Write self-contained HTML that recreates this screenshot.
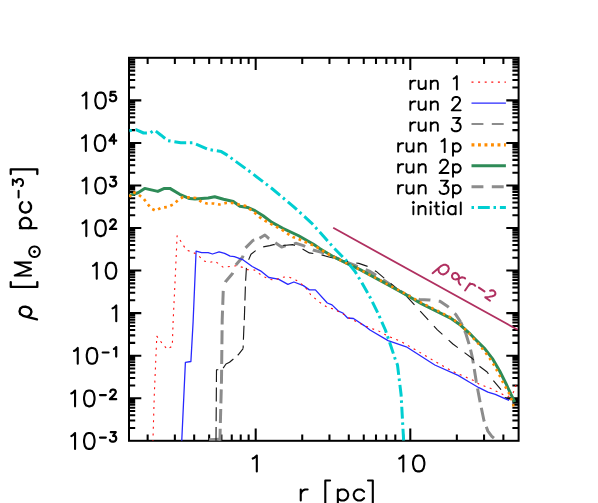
<!DOCTYPE html>
<html><head><meta charset="utf-8"><title>density profile</title>
<style>html,body{margin:0;padding:0;background:#fff;font-family:"Liberation Sans",sans-serif}svg{display:block}</style></head>
<body>
<svg width="598" height="503" viewBox="0 0 598 503">
<rect width="598" height="503" fill="#fff"/>
<defs><clipPath id="c"><rect x="129" y="57.8" width="389.6" height="383"/></clipPath></defs>
<g stroke="#000" stroke-width="2.05" fill="none">
<path d="M147.64 440.8v-6.2M147.64 57.8v6.2M174.86 440.8v-6.2M174.86 57.8v6.2M194.18 440.8v-6.2M194.18 57.8v6.2M209.16 440.8v-6.2M209.16 57.8v6.2M221.4 440.8v-6.2M221.4 57.8v6.2M231.75 440.8v-6.2M231.75 57.8v6.2M240.72 440.8v-6.2M240.72 57.8v6.2M248.63 440.8v-6.2M248.63 57.8v6.2M255.7 440.8v-12.3M255.7 57.8v12.3M302.24 440.8v-6.2M302.24 57.8v6.2M329.46 440.8v-6.2M329.46 57.8v6.2M348.78 440.8v-6.2M348.78 57.8v6.2M363.76 440.8v-6.2M363.76 57.8v6.2M376 440.8v-6.2M376 57.8v6.2M386.35 440.8v-6.2M386.35 57.8v6.2M395.32 440.8v-6.2M395.32 57.8v6.2M403.23 440.8v-6.2M403.23 57.8v6.2M410.3 440.8v-12.3M410.3 57.8v12.3M456.84 440.8v-6.2M456.84 57.8v6.2M484.06 440.8v-6.2M484.06 57.8v6.2M503.38 440.8v-6.2M503.38 57.8v6.2M129 427.99h6.2M518.6 427.99h-6.2M129 420.5h6.2M518.6 420.5h-6.2M129 415.18h6.2M518.6 415.18h-6.2M129 411.05h6.2M518.6 411.05h-6.2M129 407.69h6.2M518.6 407.69h-6.2M129 404.84h6.2M518.6 404.84h-6.2M129 402.37h6.2M518.6 402.37h-6.2M129 400.19h6.2M518.6 400.19h-6.2M129 398.24h12.3M518.6 398.24h-12.3M129 385.43h6.2M518.6 385.43h-6.2M129 377.94h6.2M518.6 377.94h-6.2M129 372.62h6.2M518.6 372.62h-6.2M129 368.5h6.2M518.6 368.5h-6.2M129 365.13h6.2M518.6 365.13h-6.2M129 362.28h6.2M518.6 362.28h-6.2M129 359.81h6.2M518.6 359.81h-6.2M129 357.64h6.2M518.6 357.64h-6.2M129 355.69h12.3M518.6 355.69h-12.3M129 342.88h6.2M518.6 342.88h-6.2M129 335.38h6.2M518.6 335.38h-6.2M129 330.07h6.2M518.6 330.07h-6.2M129 325.94h6.2M518.6 325.94h-6.2M129 322.57h6.2M518.6 322.57h-6.2M129 319.73h6.2M518.6 319.73h-6.2M129 317.26h6.2M518.6 317.26h-6.2M129 315.08h6.2M518.6 315.08h-6.2M129 313.13h12.3M518.6 313.13h-12.3M129 300.32h6.2M518.6 300.32h-6.2M129 292.83h6.2M518.6 292.83h-6.2M129 287.51h6.2M518.6 287.51h-6.2M129 283.39h6.2M518.6 283.39h-6.2M129 280.02h6.2M518.6 280.02h-6.2M129 277.17h6.2M518.6 277.17h-6.2M129 274.7h6.2M518.6 274.7h-6.2M129 272.53h6.2M518.6 272.53h-6.2M129 270.58h12.3M518.6 270.58h-12.3M129 257.77h6.2M518.6 257.77h-6.2M129 250.27h6.2M518.6 250.27h-6.2M129 244.96h6.2M518.6 244.96h-6.2M129 240.83h6.2M518.6 240.83h-6.2M129 237.46h6.2M518.6 237.46h-6.2M129 234.61h6.2M518.6 234.61h-6.2M129 232.15h6.2M518.6 232.15h-6.2M129 229.97h6.2M518.6 229.97h-6.2M129 228.02h12.3M518.6 228.02h-12.3M129 215.21h6.2M518.6 215.21h-6.2M129 207.72h6.2M518.6 207.72h-6.2M129 202.4h6.2M518.6 202.4h-6.2M129 198.28h6.2M518.6 198.28h-6.2M129 194.91h6.2M518.6 194.91h-6.2M129 192.06h6.2M518.6 192.06h-6.2M129 189.59h6.2M518.6 189.59h-6.2M129 187.41h6.2M518.6 187.41h-6.2M129 185.47h12.3M518.6 185.47h-12.3M129 172.66h6.2M518.6 172.66h-6.2M129 165.16h6.2M518.6 165.16h-6.2M129 159.85h6.2M518.6 159.85h-6.2M129 155.72h6.2M518.6 155.72h-6.2M129 152.35h6.2M518.6 152.35h-6.2M129 149.5h6.2M518.6 149.5h-6.2M129 147.04h6.2M518.6 147.04h-6.2M129 144.86h6.2M518.6 144.86h-6.2M129 142.91h12.3M518.6 142.91h-12.3M129 130.1h6.2M518.6 130.1h-6.2M129 122.61h6.2M518.6 122.61h-6.2M129 117.29h6.2M518.6 117.29h-6.2M129 113.17h6.2M518.6 113.17h-6.2M129 109.8h6.2M518.6 109.8h-6.2M129 106.95h6.2M518.6 106.95h-6.2M129 104.48h6.2M518.6 104.48h-6.2M129 102.3h6.2M518.6 102.3h-6.2M129 100.36h12.3M518.6 100.36h-12.3M129 87.55h6.2M518.6 87.55h-6.2M129 80.05h6.2M518.6 80.05h-6.2M129 74.73h6.2M518.6 74.73h-6.2M129 70.61h6.2M518.6 70.61h-6.2M129 67.24h6.2M518.6 67.24h-6.2M129 64.39h6.2M518.6 64.39h-6.2M129 61.92h6.2M518.6 61.92h-6.2M129 59.75h6.2M518.6 59.75h-6.2"/>
</g>
<rect x="129" y="57.8" width="389.6" height="383" fill="none" stroke="#000" stroke-width="2.0"/>
<g clip-path="url(#c)">
<path d="M219.9 439.2 L209 439.8" fill="none" stroke="#8c8c8c" stroke-width="3.0" stroke-linejoin="round" stroke-linecap="butt" stroke-dasharray="11.9 8.4"/>
<path d="M219.9 441 L221.5 380 L222.2 320 L223.3 289.2" fill="none" stroke="#8c8c8c" stroke-width="3.0" stroke-linejoin="round" stroke-linecap="butt" stroke-dasharray="14 5.7" stroke-dashoffset="1.76"/>
<path d="M223.3 289.2 L225.3 282 L232.3 273.7 L235 266 L242.7 257 L244.8 248.6 L253.1 240.3 L256.2 239.2" fill="none" stroke="#8c8c8c" stroke-width="3.0" stroke-linejoin="round" stroke-linecap="butt" stroke-dasharray="11.9 8.4" stroke-dashoffset="12.83"/>
<path d="M256.2 239.2 L259.5 238.2 L264.9 235 L268.4 238.2 L272 240.6" fill="none" stroke="#8c8c8c" stroke-width="3.0" stroke-linejoin="round" stroke-linecap="butt" stroke-dasharray="11.9 8.4" stroke-dashoffset="16.85"/>
<path d="M272 240.6 L275.3 242.8 L281.6 247 L285.1 245.9 L289 245 L296.3 243.3 L303.4 245.7 L313 250 L323.7 252.9 L340 259.5" fill="none" stroke="#8c8c8c" stroke-width="3.0" stroke-linejoin="round" stroke-linecap="butt" stroke-dasharray="11.9 8.4" stroke-dashoffset="16.33"/>
<path d="M340 259.5 L355 265.5 L370 271.5 L380.4 278 L395.9 288.3 L406.3 294.8 L419.2 299.5 L429.6 300 L440 301.3 L447.8 306.5 L455.5 314.2 L460.7 322" fill="none" stroke="#8c8c8c" stroke-width="3.0" stroke-linejoin="round" stroke-linecap="butt" stroke-dasharray="11.9 8.4" stroke-dashoffset="13.01"/>
<path d="M460.7 322 L465.9 333.7 L469.8 346.6 L472.4 357.5 L476.3 381.8 L480.2 402.6 L484 420.7 L487.9 431.1 L491.8 436.3 L496 440" fill="none" stroke="#8c8c8c" stroke-width="3.0" stroke-linejoin="round" stroke-linecap="butt" stroke-dasharray="14 5.7" stroke-dashoffset="9.97"/>
<path d="M216 441 L216.5 369.7 L222 369.7 L226 364 L229.5 362.3 L238.2 354.8 L243.1 348.6" fill="none" stroke="#1a1a1a" stroke-width="1.15" stroke-linejoin="round" stroke-linecap="butt" stroke-dasharray="14 5.7"/>
<path d="M243.1 348.6 L243.4 339.9 L243.9 327.5 L244.3 320.1 L245.5 283 L246.4 268" fill="none" stroke="#1a1a1a" stroke-width="1.15" stroke-linejoin="round" stroke-linecap="butt" stroke-dasharray="14 5.7" stroke-dashoffset="10.89"/>
<path d="M246.4 268 L247.3 263 L248.9 259.1 L251 254.2 L255.9 250.4 L262.9 247 L269.8 245.6 L273.6 244.6 L282 245.6 L292.7 244.6 L301 248 L309.4 252.9 L320 254.4 L328 256.7 L340.4 260" fill="none" stroke="#1a1a1a" stroke-width="1.15" stroke-linejoin="round" stroke-linecap="butt" stroke-dasharray="11.9 8.4" stroke-dashoffset="11.68"/>
<path d="M340.4 260 L352.3 262.4 L358.8 263.4 L366.8 266.1 L376.2 271.4 L384.2 278.1 L392.2 284.7 L406.3 296.1 L421.8 312.9 L437.4 329.8 L452.9 344 L472.4 358.5 L478.2 365.3 L487.1 372 L492.4 379.5 L500.6 389.2 L505 397.4 L509.5 399.6" fill="none" stroke="#1a1a1a" stroke-width="1.15" stroke-linejoin="round" stroke-linecap="butt" stroke-dasharray="11.9 8.4" stroke-dashoffset="4.14"/>
<path d="M126 196.5 L129.4 195.4 L138.1 192.7 L144.7 188.4 L157.8 191.4 L164.4 188.4 L169.9 188.4 L179.7 194.3 L189.6 198.6 L195 199 L208.2 198 L214.7 196.7 L223.5 199.3 L233.3 201.5 L239.9 206.3 L247.6 207.4 L255 210.7 L263.1 215.8 L271.9 222.4 L282.8 228.3 L298.2 235.5 L313.5 244.3 L320 248.7 L333.4 256.7 L346.8 263.4 L360.1 269.7 L373.5 276.8 L386.9 284.1 L403.7 293.5 L421.8 303.9 L437.4 311.6 L450.4 318.1 L460.7 325.3 L469 332.8 L476 340 L484.9 348.9 L492.4 358.6 L499.8 371.3 L505.8 383.2 L511 394.4 L514 400.4 L514.7 402" fill="none" stroke="#2e8b57" stroke-width="3.0" stroke-linejoin="round" stroke-linecap="butt"/>
<path d="M181.7 442 L185.4 362.3 L190.9 361.5 L193.1 322 L196.1 251.1 L201.6 252.6 L208.2 252.6 L212.5 254 L219.1 251.8 L224.6 253.3 L230.1 256.1 L234.4 256.6 L243.2 259.9 L252.2 266.5 L260.5 270.8 L268.8 277.5 L278.4 279.1 L287.9 284.4 L293.9 282 L303.4 285.6 L309.4 289.9 L315.4 289.9 L327.3 303 L332 304.9 L338 310.8 L342.8 313 L347.6 318 L353.5 318.5 L364.2 325.6 L370 330 L388.1 340.6 L406.3 346.8 L434.8 365 L458.1 375.4 L470 382.5 L478.9 387.7 L487.9 392.2 L495.3 394.4 L504.3 398.4 L509.1 400.4" fill="none" stroke="#2828ff" stroke-width="1.3" stroke-linejoin="round" stroke-linecap="butt"/>
<path d="M129.4 197.1 L132.7 192.1 L137 193.5 L143.6 198.6 L146.9 203 L151.3 208.5 L155.6 210.7 L161.1 207.8 L167.7 207 L173.1 204.5 L178.6 199.7 L183 197.1 L190.7 197.5 L196 198 L201.6 201.9 L207.1 203.5 L213.6 203.5 L219.5 204.5 L225.7 203 L232.2 203 L238.8 204.5 L245.4 205.9 L254.4 212.5 L259.8 217.3 L265.3 220.8 L270.8 223.9 L276.3 226.8 L281.7 229.6 L287.2 233.3 L292.7 237 L298.2 238.8 L303.6 241.4 L309.1 243.6 L315.7 246.5 L321.1 249.7 L326.6 253.2 L333.4 256.7" fill="none" stroke="#ff8c00" stroke-width="2.7" stroke-linejoin="round" stroke-linecap="butt" stroke-dasharray="2.7 3.8"/>
<path d="M333.4 256.7 L346.8 263.4 L360.1 269.7 L373.5 276.8 L386.9 284 L403.7 292.8 L421.8 303 L437.4 310.7 L450.4 317.3 L460.7 324.9 L469 333.2 L475.4 340.7 L479.6 345.2 L483.4 350.1 L487.1 354.9 L490.8 360.1 L494.3 365.6 L497.2 371.3 L500.2 377 L503.2 382.9 L506.2 388.4 L509.2 393.7 L511.7 400 L513.4 405.6 L513.7 407.6" fill="none" stroke="#ff8c00" stroke-width="2.5" stroke-linejoin="round" stroke-linecap="butt" stroke-dasharray="2.4 4.1"/>
<path d="M152.9 442 L154.3 394.6 L156.8 336.2 L162.3 343.6 L167.3 349.3 L172.3 346.1 L173.1 322 L175.3 276.3 L177.1 235.8 L180.8 241.3 L186.3 250 L192.8 252.2 L198.3 255.5 L203.8 261 L209.3 262.5 L214.7 261 L219.1 264.2 L223.5 267.5 L230.1 266.4 L236.6 265.8 L243.2 267.5 L247.6 269.7 L254.5 270 L261.7 275.5 L268.8 279.1 L274.8 280.3 L280.8 277.5 L287.9 276.7 L296.3 280.3 L304.6 286.3 L310.6 294.6 L318.9 301.8 L326.1 306.5 L334.4 309.4 L342.8 313.7 L349.9 318.5 L359.5 323.2 L371.4 328.5 L377.8 330.5 L388.1 336.3 L401.1 341.5 L408.9 346.1 L416.7 350.5 L432.2 359.8 L452.9 371.5 L473 380.2 L478.9 384 L485.7 386.5 L492.4 389.2 L497.6 391.9 L502.8 394.4 L508 396.6 L512.5 393.7 L515.5 388.4 L515.9 384" fill="none" stroke="#ff1010" stroke-width="1.1" stroke-linejoin="round" stroke-linecap="butt" stroke-dasharray="2 4.6"/>
<path d="M129.4 130.8 L135.9 129.7 L143.6 133 L150.2 133 L154.5 130.1 L161.1 135.2 L167.7 140.6 L180.8 142.8 L192.8 142.8 L208.2 149.4 L221.3 151.6 L226.8 154.9 L238.8 163.6 L253 174 L271.9 188.5 L293.8 206.8 L311.3 222.8 L324.4 237.3 L333.2 247.2 L345.8 260 L354.9 271.2 L362 283 L369.5 296.2 L377.8 312.9 L385.4 330 L390.7 345.6 L395 358.5 L397.5 365 L401.1 394.8 L403.7 442" fill="none" stroke="#00ced1" stroke-width="3.0" stroke-linejoin="round" stroke-linecap="butt" stroke-dasharray="2.5 3.9 11.9 3.7"/>
<path d="M333.2 227.8 L517.7 329.8" fill="none" stroke="#b03060" stroke-width="1.8" stroke-linejoin="round" stroke-linecap="butt"/>
</g>
<path d="M71.3 436.07 L72.8 435.31 L75.05 433.05 L75.05 448.9M88.55 433.05 L86.3 433.8 L84.8 436.07 L84.05 439.84 L84.05 442.11 L84.8 445.88 L86.3 448.15 L88.55 448.9 L90.05 448.9 L92.3 448.15 L93.8 445.88 L94.55 442.11 L94.55 439.84 L93.8 436.07 L92.3 433.8 L90.05 433.05 L88.55 433.05" fill="none" stroke="#000" stroke-width="2.1" stroke-linecap="round" stroke-linejoin="round"/>
<path d="M100 437.62 L105.85 437.62M110.8 432.19 L115.75 432.19 L113.05 435.81 L114.4 435.81 L115.3 436.26 L115.75 436.72 L116.2 438.08 L116.2 438.98 L115.75 440.34 L114.85 441.25 L113.5 441.7 L112.15 441.7 L110.8 441.25 L110.35 440.79 L109.9 439.89" fill="none" stroke="#000" stroke-width="2.2" stroke-linecap="round" stroke-linejoin="round"/>
<path d="M71.3 393.51 L72.8 392.75 L75.05 390.49 L75.05 406.34M88.55 390.49 L86.3 391.24 L84.8 393.51 L84.05 397.28 L84.05 399.55 L84.8 403.32 L86.3 405.59 L88.55 406.34 L90.05 406.34 L92.3 405.59 L93.8 403.32 L94.55 399.55 L94.55 397.28 L93.8 393.51 L92.3 391.24 L90.05 390.49 L88.55 390.49" fill="none" stroke="#000" stroke-width="2.1" stroke-linecap="round" stroke-linejoin="round"/>
<path d="M100 395.07 L105.85 395.07M110.35 391.9 L110.35 391.44 L110.8 390.54 L111.25 390.08 L112.15 389.63 L113.95 389.63 L114.85 390.08 L115.3 390.54 L115.75 391.44 L115.75 392.35 L115.3 393.26 L114.4 394.61 L109.9 399.14 L116.2 399.14" fill="none" stroke="#000" stroke-width="2.2" stroke-linecap="round" stroke-linejoin="round"/>
<path d="M74 350.95 L75.5 350.2 L77.75 347.93 L77.75 363.79M91.25 347.93 L89 348.69 L87.5 350.95 L86.75 354.73 L86.75 356.99 L87.5 360.77 L89 363.03 L91.25 363.79 L92.75 363.79 L95 363.03 L96.5 360.77 L97.25 356.99 L97.25 354.73 L96.5 350.95 L95 348.69 L92.75 347.93 L91.25 347.93" fill="none" stroke="#000" stroke-width="2.1" stroke-linecap="round" stroke-linejoin="round"/>
<path d="M102.7 352.51 L108.55 352.51M113.95 348.89 L114.85 348.43 L116.2 347.08 L116.2 356.59" fill="none" stroke="#000" stroke-width="2.2" stroke-linecap="round" stroke-linejoin="round"/>
<path d="M112.5 308.4 L114 307.64 L116.25 305.38 L116.25 321.23" fill="none" stroke="#000" stroke-width="2.1" stroke-linecap="round" stroke-linejoin="round"/>
<path d="M93 265.84 L94.5 265.09 L96.75 262.82 L96.75 278.68M110.25 262.82 L108 263.58 L106.5 265.84 L105.75 269.62 L105.75 271.88 L106.5 275.66 L108 277.92 L110.25 278.68 L111.75 278.68 L114 277.92 L115.5 275.66 L116.25 271.88 L116.25 269.62 L115.5 265.84 L114 263.58 L111.75 262.82 L110.25 262.82" fill="none" stroke="#000" stroke-width="2.1" stroke-linecap="round" stroke-linejoin="round"/>
<path d="M82.55 223.29 L84.05 222.53 L86.3 220.27 L86.3 236.12M99.8 220.27 L97.55 221.02 L96.05 223.29 L95.3 227.06 L95.3 229.33 L96.05 233.1 L97.55 235.37 L99.8 236.12 L101.3 236.12 L103.55 235.37 L105.05 233.1 L105.8 229.33 L105.8 227.06 L105.05 223.29 L103.55 221.02 L101.3 220.27 L99.8 220.27" fill="none" stroke="#000" stroke-width="2.1" stroke-linecap="round" stroke-linejoin="round"/>
<path d="M110.35 221.67 L110.35 221.22 L110.8 220.32 L111.25 219.86 L112.15 219.41 L113.95 219.41 L114.85 219.86 L115.3 220.32 L115.75 221.22 L115.75 222.13 L115.3 223.03 L114.4 224.39 L109.9 228.92 L116.2 228.92" fill="none" stroke="#000" stroke-width="2.2" stroke-linecap="round" stroke-linejoin="round"/>
<path d="M82.55 180.73 L84.05 179.98 L86.3 177.71 L86.3 193.57M99.8 177.71 L97.55 178.47 L96.05 180.73 L95.3 184.51 L95.3 186.77 L96.05 190.55 L97.55 192.81 L99.8 193.57 L101.3 193.57 L103.55 192.81 L105.05 190.55 L105.8 186.77 L105.8 184.51 L105.05 180.73 L103.55 178.47 L101.3 177.71 L99.8 177.71" fill="none" stroke="#000" stroke-width="2.1" stroke-linecap="round" stroke-linejoin="round"/>
<path d="M110.8 176.85 L115.75 176.85 L113.05 180.48 L114.4 180.48 L115.3 180.93 L115.75 181.38 L116.2 182.74 L116.2 183.65 L115.75 185.01 L114.85 185.91 L113.5 186.37 L112.15 186.37 L110.8 185.91 L110.35 185.46 L109.9 184.55" fill="none" stroke="#000" stroke-width="2.2" stroke-linecap="round" stroke-linejoin="round"/>
<path d="M82.1 138.18 L83.6 137.42 L85.85 135.16 L85.85 151.01M99.35 135.16 L97.1 135.91 L95.6 138.18 L94.85 141.95 L94.85 144.22 L95.6 147.99 L97.1 150.26 L99.35 151.01 L100.85 151.01 L103.1 150.26 L104.6 147.99 L105.35 144.22 L105.35 141.95 L104.6 138.18 L103.1 135.91 L100.85 135.16 L99.35 135.16" fill="none" stroke="#000" stroke-width="2.1" stroke-linecap="round" stroke-linejoin="round"/>
<path d="M113.95 134.3 L109.45 140.64 L116.2 140.64M113.95 134.3 L113.95 143.81" fill="none" stroke="#000" stroke-width="2.2" stroke-linecap="round" stroke-linejoin="round"/>
<path d="M82.55 95.62 L84.05 94.87 L86.3 92.6 L86.3 108.46M99.8 92.6 L97.55 93.36 L96.05 95.62 L95.3 99.4 L95.3 101.66 L96.05 105.44 L97.55 107.7 L99.8 108.46 L101.3 108.46 L103.55 107.7 L105.05 105.44 L105.8 101.66 L105.8 99.4 L105.05 95.62 L103.55 93.36 L101.3 92.6 L99.8 92.6" fill="none" stroke="#000" stroke-width="2.1" stroke-linecap="round" stroke-linejoin="round"/>
<path d="M115.3 91.74 L110.8 91.74 L110.35 95.82 L110.8 95.37 L112.15 94.91 L113.5 94.91 L114.85 95.37 L115.75 96.27 L116.2 97.63 L116.2 98.54 L115.75 99.9 L114.85 100.8 L113.5 101.26 L112.15 101.26 L110.8 100.8 L110.35 100.35 L109.9 99.44" fill="none" stroke="#000" stroke-width="2.2" stroke-linecap="round" stroke-linejoin="round"/>
<path d="M252.76 458.56 L254.38 457.81 L256.81 455.54 L256.81 471.4" fill="none" stroke="#000" stroke-width="2.1" stroke-linecap="round" stroke-linejoin="round"/>
<path d="M399.26 458.56 L400.88 457.81 L403.31 455.54 L403.31 471.4M417.89 455.54 L415.46 456.3 L413.84 458.56 L413.03 462.34 L413.03 464.6 L413.84 468.38 L415.46 470.64 L417.89 471.4 L419.51 471.4 L421.94 470.64 L423.56 468.38 L424.37 464.6 L424.37 462.34 L423.56 458.56 L421.94 456.3 L419.51 455.54 L417.89 455.54" fill="none" stroke="#000" stroke-width="2.1" stroke-linecap="round" stroke-linejoin="round"/>
<g id="xtitle">
<path d="M300.75 489.44 L300.75 500.5M300.75 494.18 L301.61 491.81 L303.33 490.23 L305.05 489.44 L307.63 489.44" fill="none" stroke="#000" stroke-width="2.1" stroke-linecap="round" stroke-linejoin="round"/>
<path d="M330.1 480.5 L325.3 480.5 L325.3 506.1 L330.1 506.1" fill="none" stroke="#000" stroke-width="2.1" stroke-linecap="round" stroke-linejoin="round"/>
<path d="M337.85 489.44 L337.85 506.03M337.85 491.81 L339.57 490.23 L341.29 489.44 L343.87 489.44 L345.59 490.23 L347.31 491.81 L348.17 494.18 L348.17 495.76 L347.31 498.13 L345.59 499.71 L343.87 500.5 L341.29 500.5 L339.57 499.71 L337.85 498.13" fill="none" stroke="#000" stroke-width="2.1" stroke-linecap="round" stroke-linejoin="round"/>
<path d="M364.07 491.81 L362.35 490.23 L360.63 489.44 L358.05 489.44 L356.33 490.23 L354.61 491.81 L353.75 494.18 L353.75 495.76 L354.61 498.13 L356.33 499.71 L358.05 500.5 L360.63 500.5 L362.35 499.71 L364.07 498.13" fill="none" stroke="#000" stroke-width="2.1" stroke-linecap="round" stroke-linejoin="round"/>
<path d="M368 480.5 L372.8 480.5 L372.8 506.1 L368 506.1" fill="none" stroke="#000" stroke-width="2.1" stroke-linecap="round" stroke-linejoin="round"/>
</g>
<g id="ytitle">
<path d="M37.01 319.4 L23.12 315.81 L20.31 314.06 L19.53 311.38 L20.31 308.55 L22.58 306.88 L25.38 306.62 L28.74 307.71 L30.92 309.71 L31.47 311.88 L30.61 314.39 L28.74 316.06 L27.02 316.81" fill="none" stroke="#000" stroke-width="2.3" stroke-linecap="round" stroke-linejoin="round"/>
<path d="M10.75 282.1 L10.75 286.9 L37.31 286.9 L37.31 282.1" fill="none" stroke="#000" stroke-width="2.3" stroke-linecap="round" stroke-linejoin="round"/>
<path d="M14.73 275.4 L31 275.4M14.73 275.4 L31 269M14.73 262.6 L31 269M14.73 262.6 L31 262.6" fill="none" stroke="#000" stroke-width="2.05" stroke-linecap="round" stroke-linejoin="round"/>
<path d="M34.5 246.39 L33.12 246.57 L31.84 247.1 L30.75 247.95 L29.9 249.04 L29.37 250.32 L29.19 251.7 L29.37 253.07 L29.9 254.35 L30.75 255.45 L31.84 256.29 L33.12 256.82 L34.5 257 L35.87 256.82 L37.15 256.29 L38.25 255.45 L39.09 254.35 L39.62 253.07 L39.8 251.7 L39.62 250.32 L39.09 249.04 L38.25 247.95 L37.15 247.1 L35.87 246.57 L34.5 246.39M34.5 252.32 L33.87 251.7 L34.5 251.07 L35.12 251.7 L34.5 252.32 L34.5 251.07" fill="none" stroke="#000" stroke-width="1.9" stroke-linecap="round" stroke-linejoin="round"/>
<path d="M19.94 228.2 L36.53 228.2M22.31 228.2 L20.73 226.48 L19.94 224.76 L19.94 222.18 L20.73 220.46 L22.31 218.74 L24.68 217.88 L26.26 217.88 L28.63 218.74 L30.21 220.46 L31 222.18 L31 224.76 L30.21 226.48 L28.63 228.2" fill="none" stroke="#000" stroke-width="2.3" stroke-linecap="round" stroke-linejoin="round"/>
<path d="M22.31 202.18 L20.73 203.9 L19.94 205.62 L19.94 208.2 L20.73 209.92 L22.31 211.64 L24.68 212.5 L26.26 212.5 L28.63 211.64 L30.21 209.92 L31 208.2 L31 205.62 L30.21 203.9 L28.63 202.18" fill="none" stroke="#000" stroke-width="2.3" stroke-linecap="round" stroke-linejoin="round"/>
<path d="M18.59 197.6 L18.59 190.87" fill="none" stroke="#000" stroke-width="2.0" stroke-linecap="round" stroke-linejoin="round"/>
<path d="M12.82 185 L12.82 179.5 L16.7 182.5 L16.7 181 L17.18 180 L17.67 179.5 L19.12 179 L20.09 179 L21.55 179.5 L22.52 180.5 L23 182 L23 183.5 L22.52 185 L22.03 185.5 L21.06 186" fill="none" stroke="#000" stroke-width="2.0" stroke-linecap="round" stroke-linejoin="round"/>
<path d="M10.75 174.1 L10.75 169.3 L37.31 169.3 L37.31 174.1" fill="none" stroke="#000" stroke-width="2.3" stroke-linecap="round" stroke-linejoin="round"/>
</g>
<path d="M471.5 82.15 L505.9 82.15" fill="none" stroke="#ff1010" stroke-width="1.1" stroke-linejoin="round" stroke-linecap="butt" stroke-dasharray="2 4.6"/>
<path d="M410.32 80.62 L410.32 88.95M410.32 84.19 L410.96 82.41 L412.24 81.22 L413.52 80.62 L415.44 80.62M418.64 80.62 L418.64 86.57 L419.28 88.36 L420.56 88.95 L422.48 88.95 L423.76 88.36 L425.68 86.57M425.68 80.62 L425.68 88.95M430.8 80.62 L430.8 88.95M430.8 83 L432.72 81.22 L434 80.62 L435.92 80.62 L437.2 81.22 L437.84 83 L437.84 88.95M453.64 78.66 L454.92 78.02 L456.84 76.12 L456.84 89.45" fill="none" stroke="#000" stroke-width="1.9" stroke-linecap="round" stroke-linejoin="round"/>
<path d="M471.5 103.05 L505.9 103.05" fill="none" stroke="#2828ff" stroke-width="1.3" stroke-linejoin="round" stroke-linecap="butt"/>
<path d="M410.32 101.52 L410.32 109.85M410.32 105.09 L410.96 103.31 L412.24 102.12 L413.52 101.52 L415.44 101.52M418.64 101.52 L418.64 107.47 L419.28 109.26 L420.56 109.85 L422.48 109.85 L423.76 109.26 L425.68 107.47M425.68 101.52 L425.68 109.85M430.8 101.52 L430.8 109.85M430.8 103.9 L432.72 102.12 L434 101.52 L435.92 101.52 L437.2 102.12 L437.84 103.9 L437.84 109.85M452.36 100.19 L452.36 99.56 L453 98.29 L453.64 97.65 L454.92 97.02 L457.48 97.02 L458.76 97.65 L459.4 98.29 L460.04 99.56 L460.04 100.83 L459.4 102.1 L458.12 104 L451.72 110.35 L460.68 110.35" fill="none" stroke="#000" stroke-width="1.9" stroke-linecap="round" stroke-linejoin="round"/>
<path d="M471.5 123.95 L505.9 123.95" fill="none" stroke="#1a1a1a" stroke-width="1.15" stroke-linejoin="round" stroke-linecap="butt" stroke-dasharray="11.9 8.4"/>
<path d="M410.32 122.42 L410.32 130.75M410.32 125.99 L410.96 124.2 L412.24 123.02 L413.52 122.42 L415.44 122.42M418.64 122.42 L418.64 128.37 L419.28 130.16 L420.56 130.75 L422.48 130.75 L423.76 130.16 L425.68 128.37M425.68 122.42 L425.68 130.75M430.8 122.42 L430.8 130.75M430.8 124.8 L432.72 123.02 L434 122.42 L435.92 122.42 L437.2 123.02 L437.84 124.8 L437.84 130.75M453 117.91 L460.04 117.91 L456.2 123 L458.12 123 L459.4 123.63 L460.04 124.27 L460.68 126.17 L460.68 127.44 L460.04 129.34 L458.76 130.62 L456.84 131.25 L454.92 131.25 L453 130.62 L452.36 129.98 L451.72 128.71" fill="none" stroke="#000" stroke-width="1.9" stroke-linecap="round" stroke-linejoin="round"/>
<path d="M471.5 144.85 L505.9 144.85" fill="none" stroke="#ff8c00" stroke-width="3.1" stroke-linejoin="round" stroke-linecap="butt" stroke-dasharray="2.9 3.6"/>
<path d="M398.16 143.32 L398.16 151.65M398.16 146.89 L398.8 145.11 L400.08 143.92 L401.36 143.32 L403.28 143.32M406.48 143.32 L406.48 149.27 L407.12 151.06 L408.4 151.65 L410.32 151.65 L411.6 151.06 L413.52 149.27M413.52 143.32 L413.52 151.65M418.64 143.32 L418.64 151.65M418.64 145.7 L420.56 143.92 L421.84 143.32 L423.76 143.32 L425.04 143.92 L425.68 145.7 L425.68 151.65M441.48 141.36 L442.76 140.72 L444.68 138.81 L444.68 152.15M453 143.32 L453 155.81M453 145.11 L454.28 143.92 L455.56 143.32 L457.48 143.32 L458.76 143.92 L460.04 145.11 L460.68 146.89 L460.68 148.08 L460.04 149.87 L458.76 151.06 L457.48 151.65 L455.56 151.65 L454.28 151.06 L453 149.87" fill="none" stroke="#000" stroke-width="1.9" stroke-linecap="round" stroke-linejoin="round"/>
<path d="M471.5 165.75 L505.9 165.75" fill="none" stroke="#2e8b57" stroke-width="3.0" stroke-linejoin="round" stroke-linecap="butt"/>
<path d="M398.16 164.22 L398.16 172.55M398.16 167.79 L398.8 166.01 L400.08 164.81 L401.36 164.22 L403.28 164.22M406.48 164.22 L406.48 170.17 L407.12 171.96 L408.4 172.55 L410.32 172.55 L411.6 171.96 L413.52 170.17M413.52 164.22 L413.52 172.55M418.64 164.22 L418.64 172.55M418.64 166.6 L420.56 164.81 L421.84 164.22 L423.76 164.22 L425.04 164.81 L425.68 166.6 L425.68 172.55M440.2 162.89 L440.2 162.26 L440.84 160.99 L441.48 160.35 L442.76 159.72 L445.32 159.72 L446.6 160.35 L447.24 160.99 L447.88 162.26 L447.88 163.53 L447.24 164.8 L445.96 166.7 L439.56 173.05 L448.52 173.05M453 164.22 L453 176.72M453 166.01 L454.28 164.81 L455.56 164.22 L457.48 164.22 L458.76 164.81 L460.04 166.01 L460.68 167.79 L460.68 168.98 L460.04 170.77 L458.76 171.96 L457.48 172.55 L455.56 172.55 L454.28 171.96 L453 170.77" fill="none" stroke="#000" stroke-width="1.9" stroke-linecap="round" stroke-linejoin="round"/>
<path d="M471.5 186.65 L505.9 186.65" fill="none" stroke="#8c8c8c" stroke-width="3.0" stroke-linejoin="round" stroke-linecap="butt" stroke-dasharray="11.9 8.4"/>
<path d="M398.16 185.12 L398.16 193.45M398.16 188.69 L398.8 186.91 L400.08 185.72 L401.36 185.12 L403.28 185.12M406.48 185.12 L406.48 191.07 L407.12 192.86 L408.4 193.45 L410.32 193.45 L411.6 192.86 L413.52 191.07M413.52 185.12 L413.52 193.45M418.64 185.12 L418.64 193.45M418.64 187.5 L420.56 185.72 L421.84 185.12 L423.76 185.12 L425.04 185.72 L425.68 187.5 L425.68 193.45M440.84 180.62 L447.88 180.62 L444.04 185.7 L445.96 185.7 L447.24 186.33 L447.88 186.97 L448.52 188.87 L448.52 190.14 L447.88 192.05 L446.6 193.32 L444.68 193.95 L442.76 193.95 L440.84 193.32 L440.2 192.68 L439.56 191.41M453 185.12 L453 197.62M453 186.91 L454.28 185.72 L455.56 185.12 L457.48 185.12 L458.76 185.72 L460.04 186.91 L460.68 188.69 L460.68 189.88 L460.04 191.67 L458.76 192.86 L457.48 193.45 L455.56 193.45 L454.28 192.86 L453 191.67" fill="none" stroke="#000" stroke-width="1.9" stroke-linecap="round" stroke-linejoin="round"/>
<path d="M471.5 207.55 L505.9 207.55" fill="none" stroke="#00ced1" stroke-width="3.0" stroke-linejoin="round" stroke-linecap="butt" stroke-dasharray="2.5 3.9 11.9 3.7"/>
<path d="M412.74 202.42 L413.38 202.99 L414.02 202.42 L413.38 201.85 L412.74 202.42M413.38 206.39 L413.38 214.35M418.5 206.02 L418.5 214.35M418.5 208.4 L420.42 206.62 L421.7 206.02 L423.62 206.02 L424.9 206.62 L425.54 208.4 L425.54 214.35M430.02 202.42 L430.66 202.99 L431.3 202.42 L430.66 201.85 L430.02 202.42M430.66 206.39 L430.66 214.35M436.42 202.42 L436.42 212.08 L437.06 213.78 L438.34 214.35 L439.62 214.35M434.5 206.39 L438.98 206.39M442.82 202.42 L443.46 202.99 L444.1 202.42 L443.46 201.85 L442.82 202.42M443.46 206.39 L443.46 214.35M455.62 206.02 L455.62 214.35M455.62 207.81 L454.34 206.62 L453.06 206.02 L451.14 206.02 L449.86 206.62 L448.58 207.81 L447.94 209.59 L447.94 210.78 L448.58 212.57 L449.86 213.76 L451.14 214.35 L453.06 214.35 L454.34 213.76 L455.62 212.57M460.74 202.42 L460.74 214.35" fill="none" stroke="#000" stroke-width="1.9" stroke-linecap="round" stroke-linejoin="round"/>
<path d="M432.6 273.2 L436.94 269.42 L440.82 266.14 L443.5 264.83 L445.89 264.83 L447.98 266.14 L448.87 268.52 L447.98 271.21 L445.89 273.29 L443.21 274.49 L440.82 273.89 L439.03 272.1 L438.44 270.01 L438.91 267.93M465.1 278.4 L463.89 277.63 L462.1 277.33 L460.01 277.93 L457.93 278.82 L455.84 279.42 L453.75 279.12 L452.26 277.63 L451.96 275.54 L453.16 273.45 L455.24 272.86 L457.33 273.75 L458.82 275.84 L459 278.52 L458.52 280.91 L459.12 283.29 L460.4 284.8M465.1 290.5 L470 283.3M467.9 286.4 L469.5 284.6 L471 284 L472.6 284.05 L474.26 284.75 L475.2 285.8M478.9 287.65 L484.5 291.45M490.1 290.8 L491.55 290.31 L493.64 290.61 L495.13 292.1 L495.43 293.89 L494.54 295.38 L492.45 296.27 L488.87 296.87 L485.3 297.35 L490 300.7" fill="none" stroke="#b03060" stroke-width="2.0" stroke-linecap="round" stroke-linejoin="round"/>
</svg>
</body></html>
